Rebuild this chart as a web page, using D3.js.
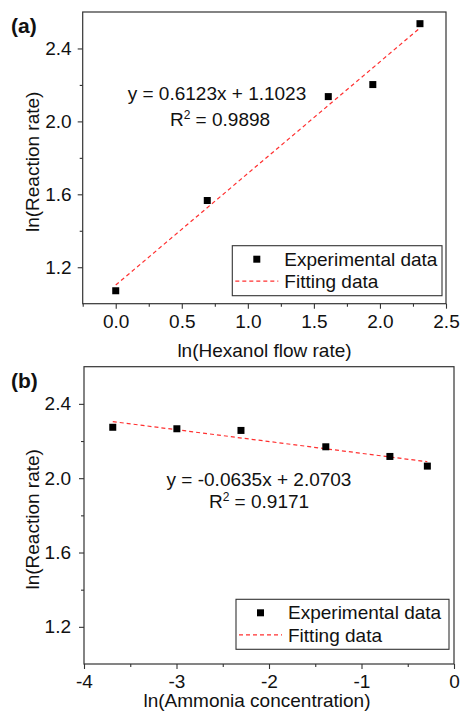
<!DOCTYPE html>
<html>
<head>
<meta charset="UTF-8">
<script src="https://cdnjs.cloudflare.com/ajax/libs/d3/7.8.2/d3.min.js"></script>
<style>
    body { margin: 0; padding: 0; background: #fff; }
    svg { display: block; }
    text { font-family: "Liberation Sans", Arial, sans-serif; fill: #111; }
</style>
</head>
<body>
<svg width="460" height="714"></svg>
<script>
    // panel (a): ln(reaction rate) vs ln(hexanol flow rate)
    const hexanolX = [0, 0.693, 1.609, 1.946, 2.303];
    const hexanolY = [1.071, 1.566, 2.136, 2.202, 2.536];
    const hexanolFit = { slope: 0.6123, intercept: 1.1023 };
    const hexanolTicks = [0, 0.5, 1.0, 1.5, 2.0, 2.5];
    const hexanolMinor = [-0.25, 0.25, 0.75, 1.25, 1.75, 2.25];

    // panel (b): ln(reaction rate) vs ln(ammonia concentration)
    const ammoniaX = [-3.689, -2.996, -2.303, -1.386, -0.693, -0.288];
    const ammoniaY = [2.274, 2.266, 2.257, 2.169, 2.117, 2.065];
    const ammoniaFit = { slope: -0.0635, intercept: 2.0703 };
    const ammoniaTicks = [-4, -3, -2, -1, 0];
    const ammoniaMinor = [-3.5, -2.5, -1.5, -0.5];

    const rateTicks = [1.2, 1.6, 2.0, 2.4];
    const rateMinor = [1.4, 1.8, 2.2];

    const legendLabels = ["Experimental data", "Fitting data"];

    const svg = d3.select("svg");

    function panel(cfg) {
        const x = d3.scaleLinear().domain(cfg.xDomain).range([cfg.left, cfg.right]);
        const y = d3.scaleLinear().domain([1.0, 2.6]).range([cfg.bottom, cfg.top]);
        const g = svg.append("g");

        // minor ticks
        g.append("g")
            .attr("transform", `translate(0,${cfg.bottom})`)
            .call(d3.axisBottom(x).tickValues(cfg.xMinor).tickSize(3).tickFormat(""));
        g.append("g")
            .attr("transform", `translate(${cfg.left},0)`)
            .call(d3.axisLeft(y).tickValues(rateMinor).tickSize(3).tickFormat(""));

        // major ticks
        g.append("g")
            .attr("transform", `translate(0,${cfg.bottom})`)
            .call(d3.axisBottom(x).tickValues(cfg.xTicks).tickSize(5).tickPadding(cfg.xPad)
                .tickFormat(cfg.xFormat));
        g.append("g")
            .attr("transform", `translate(${cfg.left},0)`)
            .call(d3.axisLeft(y).tickValues(rateTicks).tickSize(5).tickPadding(cfg.yPad)
                .tickFormat(d3.format(".1f")));

        g.selectAll(".domain").remove();
        g.selectAll(".tick line").attr("stroke", "#333").attr("stroke-width", 1.1);
        g.selectAll(".tick text")
            .style("font-size", "19px")
            .style("font-family", "'Liberation Sans', Arial, sans-serif")
            .attr("fill", "#111");

        // frame
        g.append("rect")
            .attr("x", cfg.left).attr("y", cfg.top)
            .attr("width", cfg.right - cfg.left).attr("height", cfg.bottom - cfg.top)
            .attr("fill", "none").attr("stroke", "#333").attr("stroke-width", 1.2);

        // fitting line
        const xs = d3.extent(cfg.xs);
        const fit = cfg.fit;
        g.append("line")
            .attr("x1", x(xs[0])).attr("y1", y(fit.slope * xs[0] + fit.intercept))
            .attr("x2", x(xs[1])).attr("y2", y(fit.slope * xs[1] + fit.intercept))
            .attr("stroke", "#ff3030").attr("stroke-width", 1.2)
            .attr("stroke-dasharray", "4,3");

        // points
        g.selectAll(".pt")
            .data(cfg.xs.map((d, i) => [d, cfg.ys[i]]))
            .enter().append("rect")
            .attr("x", d => x(d[0]) - 3.5)
            .attr("y", d => y(d[1]) - 3.5)
            .attr("width", 7).attr("height", 7)
            .attr("fill", "#000");

        // equation
        g.append("text")
            .attr("x", cfg.eqX).attr("y", cfg.eqY)
            .attr("text-anchor", "middle")
            .style("font-size", "19px")
            .text(cfg.eqText);
        const r2 = g.append("text")
            .attr("x", cfg.r2X).attr("y", cfg.eqY + cfg.r2Gap)
            .attr("text-anchor", "middle")
            .style("font-size", "19px");
        r2.append("tspan").text("R");
        r2.append("tspan").attr("dy", -7).style("font-size", "12px").text("2");
        r2.append("tspan").attr("dy", 7).text(" = " + cfg.r2Text);

        // legend
        const lg = g.append("g").attr("transform", `translate(${cfg.legX},${cfg.legY})`);
        lg.append("rect")
            .attr("width", cfg.legW).attr("height", 50)
            .attr("fill", "#fff").attr("stroke", "#333").attr("stroke-width", 1.1);
        lg.append("rect")
            .attr("x", 21).attr("y", 10).attr("width", 7).attr("height", 7).attr("fill", "#000");
        lg.append("line")
            .attr("x1", 3).attr("x2", 46).attr("y1", 35.5).attr("y2", 35.5)
            .attr("stroke", "#ff3030").attr("stroke-width", 1.2).attr("stroke-dasharray", "4,3");
        lg.selectAll(".lt")
            .data(legendLabels)
            .enter().append("text")
            .attr("x", 52).attr("y", (d, i) => 20 + i * 22.5)
            .style("font-size", "19px")
            .text(d => d);

        // axis titles
        g.append("text")
            .attr("x", cfg.xTitleX).attr("y", cfg.xTitleY)
            .attr("text-anchor", "middle")
            .style("font-size", "19px")
            .text(cfg.xTitle);
        g.append("text")
            .attr("transform", `translate(39,${(cfg.top + cfg.bottom) / 2 + 4}) rotate(-90)`)
            .attr("text-anchor", "middle")
            .style("font-size", "19px")
            .text("ln(Reaction rate)");

        // panel label
        g.append("text")
            .attr("x", 11).attr("y", cfg.top + 21)
            .style("font-size", "21px").style("font-weight", "bold")
            .text(cfg.label);
    }

    panel({
        label: "(a)",
        left: 82.7, right: 446, top: 12, bottom: 303.7,
        xDomain: [-0.25, 2.5], xTicks: hexanolTicks, xMinor: hexanolMinor,
        xFormat: d3.format(".1f"), xPad: 6, yPad: 6,
        xs: hexanolX, ys: hexanolY, fit: hexanolFit,
        eqText: "y = 0.6123x + 1.1023", eqX: 217, eqY: 100,
        r2Text: "0.9898", r2X: 220, r2Gap: 26,
        legX: 232.3, legY: 245.7, legW: 209.7,
        xTitle: "ln(Hexanol flow rate)", xTitleX: 264.5, xTitleY: 357
    });

    panel({
        label: "(b)",
        left: 84, right: 454, top: 366.7, bottom: 664,
        xDomain: [-4, 0], xTicks: ammoniaTicks, xMinor: ammoniaMinor,
        xFormat: d => String(d), xPad: 5.5, yPad: 8,
        xs: ammoniaX, ys: ammoniaY, fit: ammoniaFit,
        eqText: "y = -0.0635x + 2.0703", eqX: 259, eqY: 486,
        r2Text: "0.9171", r2X: 259, r2Gap: 21.5,
        legX: 236, legY: 599.3, legW: 213,
        xTitle: "ln(Ammonia concentration)", xTitleX: 257, xTitleY: 707
    });
</script>
</body>
</html>
